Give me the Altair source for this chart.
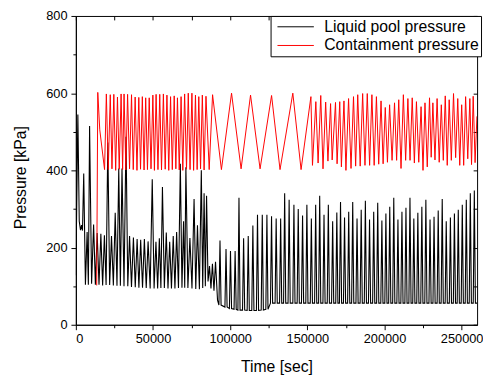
import altair as alt
import pandas as pd

SERIES = ["Liquid pool pressure", "Containment pressure"]
COLORS = ["#000000", "#ff0000"]

X_MAJOR = [0, 50000, 100000, 150000, 200000, 250000]
X_MINOR = [25000, 75000, 125000, 175000, 225000]
X_ALL = [0, 25000, 50000, 75000, 100000, 125000, 150000, 175000, 200000, 225000, 250000]
Y_MAJOR = [0, 200, 400, 600, 800]
Y_MINOR = [100, 300, 500, 700]
Y_ALL = [0, 100, 200, 300, 400, 500, 600, 700, 800]

# ---------------- Liquid pool pressure (black) ----------------
black_start_t = [0, 1300, 2200, 3000, 3700, 4300]
black_start_v = [128, 545, 268, 245, 258, 244]

blackA_peak_t = [5100, 7300, 8900, 11500, 13800, 16200, 18500, 20700, 23100, 25500,
                 27800, 29900, 32500, 34800, 37300, 39700, 42000, 44400, 46800, 49500,
                 51900, 54100, 56100, 58600, 60800, 63100, 65300, 67700, 69800, 71300,
                 73900, 76600, 78800, 81300, 83100, 84700, 86600, 88500, 90500]
blackA_peak_v = [392, 240, 515, 260, 238, 236, 232, 472, 230, 290,
                 405, 405, 487, 230, 226, 222, 220, 222, 216, 377,
                 215, 224, 357, 239, 215, 230, 240, 417, 268, 408,
                 225, 326, 258, 400, 341, 334, 152, 158, 163]
blackA_trough_t = [6200, 8100, 10200, 12650, 15000, 17350, 19600, 21900, 24300, 26650,
                   28850, 31200, 33650, 36050, 38500, 40850, 43200, 45600, 48150, 50700,
                   53000, 55100, 57350, 59700, 61950, 64200, 66500, 68750, 70550, 72600,
                   75250, 77700, 80050, 82200, 83900, 85650, 87550, 89500, 91800]
blackA_trough_v = [104, 104, 106, 104, 104, 102, 103, 103, 102, 101,
                   101, 100, 100, 98, 97, 96, 96, 95, 94, 94,
                   94, 95, 95, 94, 94, 94, 95, 96, 96, 95,
                   94, 93, 92, 95, 100, 112, 94, 88, 64]

blackB_peak_t = [93400, 97300, 100200, 103200, 105700, 108700, 111700, 114700, 117700, 120800,
                 123800, 126800, 129800, 132700, 135300, 138200, 141300, 144100, 146900, 149700,
                 152600, 155400, 158000, 160800, 163600, 166400, 169100, 171500, 174100, 176800,
                 179400, 182200, 184900, 187600, 190300, 193000, 195600, 198300, 200900, 203400,
                 206000, 208700, 211300, 213900, 216500, 219000, 221600, 224200, 226800, 229500,
                 232100, 234800, 237400, 240000, 242700, 245300, 247800, 250400, 253000, 255600,
                 258200]
blackB_peak_v = [218, 196, 191, 191, 329, 224, 230, 257, 285, 285,
                 285, 281, 275, 275, 341, 324, 311, 300, 283, 311,
                 275, 311, 334, 285, 311, 268, 291, 318, 278, 293,
                 318, 275, 298, 321, 273, 293, 316, 270, 288, 306,
                 329, 273, 293, 303, 329, 275, 290, 306, 324, 273,
                 280, 296, 326, 268, 278, 288, 298, 311, 324, 341,
                 348]
blackB_base_v = [51, 46, 42, 40, 38, 38, 37, 37, 37, 38,
                 40, 56, 56, 56, 56, 56, 56, 56, 56, 56,
                 56, 56, 56, 56, 56, 56, 56, 56, 56, 56,
                 56, 56, 56, 56, 56, 56, 56, 56, 56, 56,
                 56, 56, 56, 56, 56, 56, 56, 56, 56, 56,
                 56, 56, 56, 56, 56, 56, 56, 56, 56, 56,
                 56]
black_end_t = [260000]
black_end_v = [56]
SPIKE_HALF = 700  # drawing width of the narrow pressure spikes

# ---------------- Containment pressure (red) ----------------
red_start_t = [13500, 14200, 15500, 18600]
red_start_v = [102, 602, 505, 402]

red1_peak_t = [19760, 22300, 24600, 26960, 29320, 31230, 33520, 36070, 38430, 40790,
               43080, 45250, 47540, 49900, 52000, 54360, 56720, 59010, 61370, 63730,
               65830, 68190, 70490, 72840, 75200, 77500, 79660, 81960, 84320]
red1_peak_v = [598, 596, 597, 590, 598, 598, 597, 596, 590, 589,
               591, 588, 588, 595, 597, 597, 598, 595, 591, 593,
               588, 591, 598, 600, 600, 595, 591, 595, 592]
red1_trough_t = [21000, 23400, 25800, 28100, 30300, 32400, 34800, 37200, 39600, 41900,
                 44200, 46400, 48700, 50900, 53200, 55500, 57900, 60200, 62500, 64800,
                 67000, 69300, 71700, 74000, 76300, 78600, 80800, 83100, 86400]
red1_trough_v = [402, 404, 400, 403, 402, 401, 404, 402, 400, 403,
                 401, 402, 404, 400, 402, 401, 403, 400, 402, 404,
                 401, 400, 403, 402, 400, 402, 404, 401, 402]

red_slow_t = [88590, 94320, 100890, 107070, 113190, 119370, 126820, 132300, 140590, 145940]
red_slow_v = [596, 402, 600, 404, 595, 404, 594, 402, 600, 402]

red2_t = [152310, 153330, 155500, 156970, 158690, 160150, 161870, 163340, 165060, 166080,
          168250, 169270, 170990, 172070, 173730, 175000, 176720, 178300, 179910, 181300,
          182650, 184250, 185840, 187350, 188830, 190350, 191830, 193300, 194760, 196250,
          197750, 199100, 200500, 201900, 203300, 204900, 206490, 207850, 209230, 210700,
          212220, 213700, 215150, 216550, 217960, 219350, 220700, 222200, 223690, 224950,
          226240, 227700, 229170, 230250, 231340, 232700, 234080, 235450, 236820, 238100,
          239370, 240650, 241920, 243300, 244720, 246100, 247470, 248750, 250010, 251300,
          252560, 253950, 255300, 256400, 257470, 258700, 259900]
red2_v = [591, 413, 578, 419, 594, 404, 577, 424, 573, 427,
          576, 417, 578, 409, 580, 400, 586, 405, 591, 411,
          596, 411, 599, 413, 599, 413, 596, 413, 591, 416,
          580, 417, 563, 421, 570, 426, 575, 426, 583, 405,
          596, 426, 586, 426, 588, 419, 578, 421, 565, 400,
          575, 409, 588, 434, 575, 427, 586, 421, 570, 426,
          593, 413, 583, 426, 599, 433, 586, 413, 570, 413,
          591, 430, 586, 415, 592, 420, 540]


def interleave(a_t, a_v, b_t, b_v):
    out = []
    for i in range(len(a_t)):
        out.append((a_t[i], a_v[i]))
        out.append((b_t[i], b_v[i]))
    return out


black_pts = list(zip(black_start_t, black_start_v))
black_pts += interleave(blackA_peak_t, blackA_peak_v, blackA_trough_t, blackA_trough_v)
for t, v, b in zip(blackB_peak_t, blackB_peak_v, blackB_base_v):
    black_pts += [(t - SPIKE_HALF, b), (t, v), (t + SPIKE_HALF, b)]
black_pts += list(zip(black_end_t, black_end_v))

red_pts = list(zip(red_start_t, red_start_v))
red_pts += interleave(red1_peak_t, red1_peak_v, red1_trough_t, red1_trough_v)
red_pts += list(zip(red_slow_t, red_slow_v))
red_pts += list(zip(red2_t, red2_v))

black_df = pd.DataFrame(black_pts, columns=["t", "p"])
black_df["series"] = SERIES[0]
black_df["i"] = range(len(black_df))
red_df = pd.DataFrame(red_pts, columns=["t", "p"])
red_df["series"] = SERIES[1]
red_df["i"] = range(len(red_df))

FONT = "Liberation Sans"
xscale = alt.Scale(domain=[0, 260000], nice=False, zero=False)
yscale = alt.Scale(domain=[0, 800], nice=False)

legend = alt.Legend(
    title=None, orient="none", legendX=198, legendY=0, direction="vertical",
    symbolType="stroke", symbolSize=1369, symbolStrokeWidth=1, symbolOffset=5,
    labelOffset=10, labelFontSize=16, labelFont=FONT, labelColor="black",
    clipHeight=19, rowPadding=0, padding=1.5, strokeColor="black",
    fillColor="white", labelLimit=400,
)
color = alt.Color("series:N", scale=alt.Scale(domain=SERIES, range=COLORS), legend=legend)

black_layer = alt.Chart(black_df).mark_line(strokeWidth=1.1, clip=True).encode(
    x=alt.X("t:Q", scale=xscale, axis=alt.Axis(
        orient="bottom", values=X_MAJOR, format="d", labelFontSize=13, tickSize=5,
        labelPadding=3, title="Time [sec]", titleFontSize=16, titleFontWeight="normal",
        titleX=204, titleY=48, titleAlign="center", titleBaseline="alphabetic")),
    y=alt.Y("p:Q", scale=yscale, axis=alt.Axis(
        orient="left", values=Y_MAJOR, format="d", labelFontSize=13, tickSize=5,
        labelPadding=4, title="Pressure [kPa]", titleFontSize=16, titleFontWeight="normal",
        titleAngle=270, titleX=-51, titleY=164, titleAlign="center",
        titleBaseline="alphabetic")),
    color=color,
    order=alt.Order("i:Q"),
)

red_layer = alt.Chart(red_df).mark_line(strokeWidth=1, clip=True).encode(
    x=alt.X("t:Q", scale=xscale, axis=alt.Axis(
        orient="top", values=X_ALL, labels=False, tickSize=4, offset=-4,
        domain=False, title=None)),
    y=alt.Y("p:Q", scale=yscale, axis=alt.Axis(
        orient="right", values=Y_ALL, labels=False, tickSize=4, offset=-4,
        domain=False, title=None)),
    color=color,
    order=alt.Order("i:Q"),
)

minor_layer = alt.Chart(black_df).mark_line(strokeOpacity=0).encode(
    x=alt.X("t:Q", scale=xscale, axis=alt.Axis(
        orient="bottom", values=X_MINOR, labels=False, tickSize=3,
        domain=False, title=None)),
    y=alt.Y("p:Q", scale=yscale, axis=alt.Axis(
        orient="left", values=Y_MINOR, labels=False, tickSize=3,
        domain=False, title=None)),
    order=alt.Order("i:Q"),
)

chart = (
    alt.layer(black_layer, red_layer, minor_layer)
    .resolve_scale(x="shared", y="shared", color="shared")
    .resolve_axis(x="independent", y="independent")
    .properties(
        width=408, height=314,
        padding={"left": 69, "top": 5, "right": 6, "bottom": 50},
        autosize=alt.AutoSizeParams(type="none"),
        background="white",
    )
    .configure_view(stroke="black", strokeWidth=1)
    .configure_axis(
        grid=False, domainColor="black", tickColor="black", labelColor="black",
        titleColor="black", labelFont=FONT, titleFont=FONT, domainWidth=1, tickWidth=1,
    )
)

chart.save("out.html", embed_options={"renderer": "svg", "actions": False})
